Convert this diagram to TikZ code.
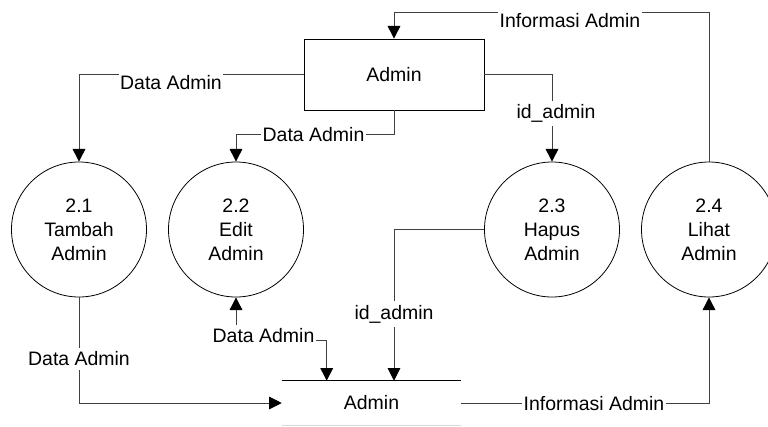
\documentclass[tikz,border=0pt]{standalone}
\usepackage{fontspec}
\setmainfont{Liberation Sans}
\usetikzlibrary{arrows.meta}
\begin{document}
\begin{tikzpicture}[x=0.75pt,y=-0.75pt,
  every node/.style={font=\fontsize{14.6}{18}\selectfont},
  proc/.style={draw=black,line width=0.6pt,circle,minimum size=101.25pt,inner sep=0pt,align=center},
  entity/.style={draw=black,line width=0.6pt,minimum width=135pt,minimum height=53.25pt,inner sep=0pt},
  storebox/.style={minimum width=134.25pt,minimum height=33pt,inner sep=0pt},
  flow/.style={draw=black!75,line width=0.7pt,-{Triangle[length=9.5pt,width=9.5pt,color=black]}},
  flowtwo/.style={draw=black!75,line width=0.7pt,{Triangle[length=9.5pt,width=9.5pt,color=black]}-{Triangle[length=9.5pt,width=9.5pt,color=black]}},
  plain/.style={draw=black!75,line width=0.7pt},
  lbl/.style={fill=white,inner xsep=1pt,inner ysep=3pt}]
\useasboundingbox (0,0) rectangle (768,426);
\fill[white] (0,0) rectangle (768,426);

\node[entity] (box) at (394,74.5) {Admin};
\node[proc] (c1) at (79,229.5) {2.1\\Tambah\\Admin};
\node[proc] (c2) at (236,229.5) {2.2\\Edit\\Admin};
\node[proc] (c3) at (552,229.5) {2.3\\Hapus\\Admin};
\node[proc] (c4) at (709,229.5) {2.4\\Lihat\\Admin};
\node[storebox] (store) at (371.5,403) {Admin};
\draw[black,line width=0.7pt] (store.north west) -- (store.north east);
\draw[black!15,line width=0.7pt] (store.south west) -- (store.south east);

\coordinate (k2) at (326.7,340.7);

\draw[flow] (box.west) -| (c1.north);
\draw[flow] (box.south) -- ++(0,24.5) -| (c2.north);
\draw[flow] (box.east) -| (c3.north);
\draw[flow] (c4.north) -- ++(0,-149) -| (box.north);
\draw[flow] (c1.south) |- (store.west);
\draw[flowtwo] (c2.south) |- (k2) -- (k2 |- store.north);
\draw[flow] (c3.west) -| (box.south |- store.north);
\draw[flow] (store.east) -| (c4.south);

\node[lbl] (l1) at (171,83) {Data Admin};
\node[lbl] (l2) at (313.5,134.3) {Data Admin};
\node[lbl] (l3) at (556,113.5) {id\_admin};
\node[lbl] (l4) at (570,20.5) {Informasi Admin};
\node[lbl] (l5) at (79,358.7) {Data Admin};
\node[lbl] (l6) at (263.5,336) {Data Admin};
\node[lbl] (l7) at (394,314) {id\_admin};
\node[lbl] (l8) at (594,404) {Informasi Admin};
\end{tikzpicture}
\end{document}
